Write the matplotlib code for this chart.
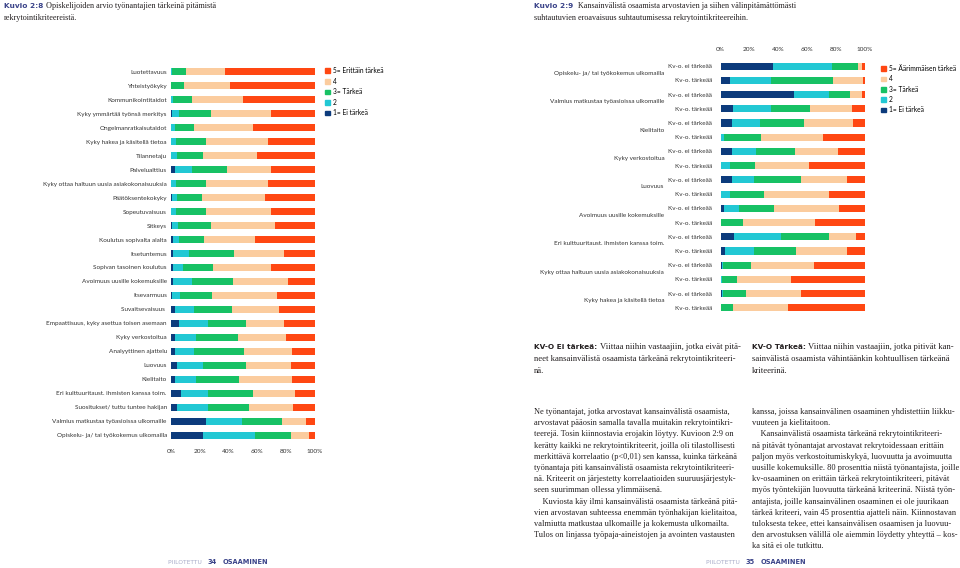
import numpy as np
import matplotlib
matplotlib.use('Agg')
import matplotlib.pyplot as plt
from matplotlib.patches import Patch

# --- data: Kuvio 2:8 (share of answers, %, levels 1..5) ---
left_labels = ['Luotettavuus', 'Yhteistyökyky', 'Kommunikointitaidot', 'Kyky ymmärtää työnsä merkitys',
               'Ongelmanratkaisutaidot', 'Kyky hakea ja käsitellä tietoa', 'Tilannetaju', 'Palvelualttius',
               'Kyky ottaa haltuun uusia asiakokonaisuuksia', 'Päätöksentekokyky', 'Sopeutuvaisuus', 'Sitkeys',
               'Koulutus sopivalta alalta', 'Itsetuntemus', 'Sopivan tasoinen koulutus',
               'Avoimuus uusille kokemuksille', 'Itsevarmuus', 'Suvaitsevaisuus ',
               'Empaattisuus, kyky asettua toisen asemaan', 'Kyky verkostoitua', 'Analyyttinen ajattelu',
               'Luovuus', 'Kielitaito', 'Eri kulttuuritaust. ihmisten kanssa toim.',
               'Suositukset/ tuttu tuntee hakijan', 'Valmius matkustaa työasioissa ulkomaille',
               'Opiskelu- ja/ tai työkokemus ulkomailla']
left_1 = [0.0, 0.0, 0.0, 0.9, 0.3, 0.0, 0.0, 2.5, 0.0, 0.7, 0.0, 0.7, 1.2, 1.6, 1.2, 1.6, 0.7, 3.0,
          5.3, 3.0, 2.8, 3.9, 2.8, 7.2, 4.4, 24.0, 21.9]
left_2 = [0.7, 0.3, 1.4, 4.6, 2.5, 3.5, 4.4, 11.8, 3.5, 3.5, 3.2, 4.2, 4.2, 10.6, 6.9, 12.7, 5.3, 13.0,
          20.6, 14.5, 13.4, 18.5, 14.8, 18.7, 21.5, 25.6, 36.7]
left_3 = [9.5, 8.8, 13.2, 22.4, 13.2, 20.6, 18.0, 24.9, 20.6, 17.1, 20.8, 22.6, 17.8, 31.6, 21.0, 28.9,
          22.6, 26.3, 26.3, 29.3, 34.2, 29.8, 29.6, 30.7, 28.4, 27.3, 24.5]
left_4 = [27.0, 32.1, 35.3, 41.3, 41.1, 43.2, 37.6, 30.0, 43.2, 44.3, 45.5, 45.0, 34.9, 34.6, 40.2, 38.1,
          45.0, 33.0, 26.1, 33.3, 33.7, 30.9, 37.0, 29.3, 30.7, 16.9, 12.5]
left_5 = [62.8, 58.8, 50.1, 30.8, 42.9, 32.7, 40.0, 30.8, 32.7, 34.4, 30.5, 27.5, 42.0, 21.6, 30.7, 18.7,
          26.4, 24.7, 21.7, 19.9, 15.9, 16.9, 15.8, 14.1, 15.0, 6.2, 4.4]
left_legend = ['1= Ei tärkeä', '2', '3= Tärkeä', '4', '5= Erittäin tärkeä']

# --- data: Kuvio 2:9 ---
right_cats = ['Opiskelu- ja/ tai työkokemus ulkomailla', 'Valmius matkustaa työasioissa ulkomaille',
              'Kielitaito', 'Kyky verkostoitua', 'Luovuus', 'Avoimuus uusille kokemuksille',
              'Eri kulttuuritaust. ihmisten kanssa toim.', 'Kyky ottaa haltuun uusia asiakokonaisuuksia',
              'Kyky hakea ja käsitellä tietoa']
right_groups = ['Kv-o. ei tärkeää', 'Kv-o. tärkeää']
right_1 = [36.3, 6.9, 50.8, 8.5, 8.3, 0.0, 7.9, 0.0, 7.9, 0.0, 2.5, 0.0, 9.5, 2.8, 0.9, 0.0, 0.9, 0.0]
right_2 = [40.9, 28.2, 24.0, 26.6, 18.9, 2.3, 16.9, 6.9, 15.2, 6.9, 10.6, 0.0, 32.3, 20.6, 0.9, 1.2, 0.5, 0.0]
right_3 = [18.2, 42.5, 15.0, 27.0, 30.3, 25.9, 26.8, 17.3, 32.6, 23.1, 24.2, 15.5, 33.0, 29.1, 19.4, 10.4,
           16.2, 8.8]
right_4 = [2.8, 21.2, 8.3, 29.1, 34.2, 42.5, 30.0, 36.7, 32.1, 44.8, 44.8, 49.7, 18.9, 34.9, 43.6, 37.2,
           37.9, 37.9]
right_5 = [1.8, 1.2, 1.9, 8.8, 8.3, 29.3, 18.4, 39.1, 12.2, 25.2, 17.9, 34.8, 6.3, 12.6, 35.2, 51.2, 44.5,
           53.3]
right_legend = ['1= Ei tärkeä', '2', '3= Tärkeä', '4', '5= Äärimmäisen tärkeä']

ticks = [0, 20, 40, 60, 80, 100]
tick_labels = ['0%', '20%', '40%', '60%', '80%', '100%']
colors = ['#0c3b7c', '#22c8d4', '#17c164', '#fbcc9e', '#ff4712']

W, H = 960, 568
chart_font = 'Lato'
serif = 'Liberation Serif'
navy = '#3a4389'


def rect(x0, y0, x1, y1):
    return [x0 / W, 1 - y1 / H, (x1 - x0) / W, (y1 - y0) / H]


def stacked(ax, series):
    n = len(series[0])
    y = np.arange(n)
    left = np.zeros(n)
    for vals, c in zip(series, colors):
        ax.barh(y, vals, left=left, height=0.5, color=c, linewidth=0)
        left = left + np.array(vals)
    ax.set_xlim(0, 100)
    ax.set_ylim(n - 0.5, -0.5)
    for s in ax.spines.values():
        s.set_visible(False)
    ax.set_xticks(ticks)
    ax.set_xticklabels(tick_labels, fontsize=4.6, family=chart_font, color='#333333')
    ax.tick_params(length=0)


plt.rcParams['font.family'] = ['Lato', 'DejaVu Sans']
fig = plt.figure(figsize=(9.6, 5.68), dpi=100)

# left chart
ax1 = fig.add_axes(rect(171, 65, 315, 442))
stacked(ax1, [left_1, left_2, left_3, left_4, left_5])
ax1.set_yticks(np.arange(len(left_labels)))
ax1.set_yticklabels(left_labels, fontsize=4.6, family=chart_font, color='#333333')
ax1.tick_params(axis='x', pad=5)
ax1.tick_params(axis='y', pad=3)
h1 = [Patch(color=c, label=l) for c, l in zip(colors, left_legend)][::-1]
fig.legend(handles=h1, loc='upper left', bbox_to_anchor=(325 / W, 1 - 67 / H), frameon=False,
           prop={'family': chart_font, 'size': 4.8}, handlelength=0.7, handleheight=0.7,
           handletextpad=0.5, labelspacing=0.54, borderpad=0, borderaxespad=0)

# right chart
ax2 = fig.add_axes(rect(720.5, 59, 865, 315))
stacked(ax2, [right_1, right_2, right_3, right_4, right_5])
ax2.xaxis.tick_top()
ax2.tick_params(axis='x', pad=5)
ax2.set_yticks(np.arange(2 * len(right_cats)))
ax2.set_yticklabels(right_groups * len(right_cats), fontsize=4.6, family=chart_font, color='#333333')
ax2.tick_params(axis='y', pad=6)
for i, cat in enumerate(right_cats):
    ax2.text(-0.39, 2 * i + 0.5, cat, transform=ax2.get_yaxis_transform(), ha='right', va='center',
             fontsize=4.6, family=chart_font, color='#333333')
h2 = [Patch(color=c, label=l) for c, l in zip(colors, right_legend)][::-1]
fig.legend(handles=h2, loc='upper left', bbox_to_anchor=(881 / W, 1 - 65 / H), frameon=False,
           prop={'family': chart_font, 'size': 4.8}, handlelength=0.7, handleheight=0.7,
           handletextpad=0.5, labelspacing=0.5, borderpad=0, borderaxespad=0)

# page texts
renderer = fig.canvas.get_renderer()


def runs(x, y, parts):
    # parts: list of (text, dict of text kwargs); drawn one after another on a line
    for txt, kw in parts:
        t = fig.text(x / W, 1 - y / H, txt, va='center', ha='left', **kw)
        bb = t.get_window_extent(renderer)
        x = bb.x1


bold_nav = dict(family='DejaVu Sans', weight='bold', size=5.3, color=navy)
title_ser = dict(family=serif, size=5.9, color='#231f20')
ser = dict(family=serif, size=6.0, color='#231f20')
kv_ser = dict(family=serif, size=6.2, color='#231f20')

runs(4, 6, [('Kuvio 2:8 ', bold_nav), ('Opiskelijoiden arvio työnantajien tärkeinä pitämistä', title_ser)])
runs(4, 18, [('rekrytointikriteereistä.', title_ser)])
runs(534, 6, [('Kuvio 2:9  ', bold_nav),
              ('Kansainvälistä osaamista arvostavien ja siihen välinpitämättömästi', title_ser)])
runs(534, 18, [('suhtautuvien eroavaisuus suhtautumisessa rekrytointikriteereihin.', title_ser)])

bold_blk = dict(family='DejaVu Sans', weight='bold', size=5.3, color='#231f20')
runs(534, 347, [('KV-O Ei tärkeä: ', bold_blk), ('Viittaa niihin vastaajiin, jotka eivät pitä-', kv_ser)])
runs(534, 359, [('neet kansainvälistä osaamista tärkeänä rekrytointikriteeri-', kv_ser)])
runs(534, 371, [('nä.', kv_ser)])
runs(752, 347, [('KV-O Tärkeä: ', bold_blk), ('Viittaa niihin vastaajiin, jotka pitivät kan-', kv_ser)])
runs(752, 359, [('sainvälistä osaamista vähintäänkin kohtuullisen tärkeänä', kv_ser)])
runs(752, 371, [('kriteerinä.', kv_ser)])

body_left = [
    'Ne työnantajat, jotka arvostavat kansainvälistä osaamista,',
    'arvostavat pääosin samalla tavalla muitakin rekrytointikri-',
    'teerejä. Tosin kiinnostavia erojakin löytyy. Kuvioon 2:9 on',
    'kerätty kaikki ne rekrytointikriteerit, joilla oli tilastollisesti',
    'merkittävä korrelaatio (p<0,01) sen kanssa, kuinka tärkeänä',
    'työnantaja piti kansainvälistä osaamista rekrytointikriteeri-',
    'nä. Kriteerit on järjestetty korrelaatioiden suuruusjärjestyk-',
    'seen suurimman ollessa ylimmäisenä.',
    '    Kuviosta käy ilmi kansainvälistä osaamista tärkeänä pitä-',
    'vien arvostavan suhteessa enemmän työnhakijan kielitaitoa,',
    'valmiutta matkustaa ulkomaille ja kokemusta ulkomailta.',
    'Tulos on linjassa työpaja-aineistojen ja avointen vastausten',
]
body_right = [
    'kanssa, joissa kansainvälinen osaaminen yhdistettiin liikku-',
    'vuuteen ja kielitaitoon.',
    '    Kansainvälistä osaamista tärkeänä rekrytointikriteeri-',
    'nä pitävät työnantajat arvostavat rekrytoidessaan erittäin',
    'paljon myös verkostoitumiskykyä, luovuutta ja avoimuutta',
    'uusille kokemuksille. 80 prosenttia niistä työnantajista, joille',
    'kv-osaaminen on erittäin tärkeä rekrytointikriteeri, pitävät',
    'myös työntekijän luovuutta tärkeänä kriteerinä. Niistä työn-',
    'antajista, joille kansainvälinen osaaminen ei ole juurikaan',
    'tärkeä kriteeri, vain 45 prosenttia ajatteli näin. Kiinnostavan',
    'tuloksesta tekee, ettei kansainvälisen osaamisen ja luovuu-',
    'den arvostuksen välillä ole aiemmin löydetty yhteyttä – kos-',
    'ka sitä ei ole tutkittu.',
]
for i, line in enumerate(body_left):
    runs(534, 412 + i * 11.2, [(line, ser)])
for i, line in enumerate(body_right):
    runs(752, 412 + i * 11.2, [(line, ser)])

foot_l = dict(family='DejaVu Sans', size=4.3, color='#a7abc8')
foot_b = dict(family='DejaVu Sans', size=4.8, color=navy, weight='bold')
runs(168, 562, [('PIILOTETTU   ', foot_l), ('34', foot_b), ('   ', foot_l), ('OSAAMINEN', foot_b)])
runs(706, 562, [('PIILOTETTU   ', foot_l), ('35', foot_b), ('   ', foot_l), ('OSAAMINEN', foot_b)])

fig.savefig('out.png', dpi=100)
